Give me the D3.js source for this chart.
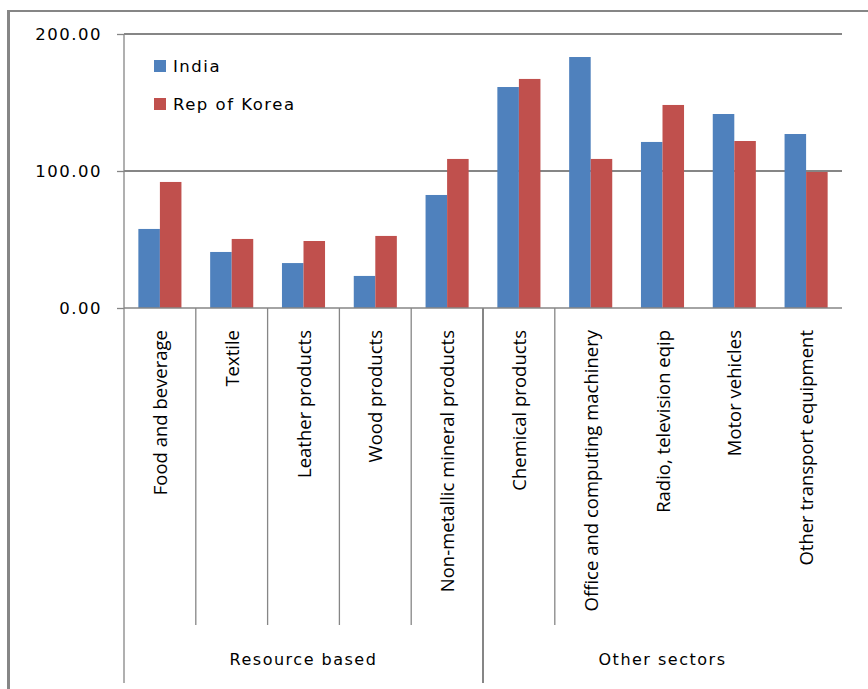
<!DOCTYPE html>
<html>
<head>
<meta charset="utf-8">
<script src="https://cdn.jsdelivr.net/npm/d3@7"></script>
<style>
  html, body { margin: 0; padding: 0; background: #fff; }
  svg { display: block; }
</style>
</head>
<body>
<svg id="chart" width="868" height="689"></svg>
<script>
const categories = ["Food and beverage", "Textile", "Leather products", "Wood products",
  "Non-metallic mineral products", "Chemical products", "Office and computing machinery",
  "Radio, television eqip", "Motor vehicles", "Other transport equipment"];
const seriesNames = ["India", "Rep of Korea"];
const india = [57.7, 40.9, 32.8, 23.4, 82.5, 161.3, 183.2, 121.2, 141.6, 127.0];
const korea = [92.0, 50.4, 48.9, 52.6, 108.8, 167.2, 108.8, 148.2, 121.9, 99.3];
const groups = [
  { name: "Resource based", first: 0, last: 4 },
  { name: "Other sectors", first: 5, last: 9 }
];
// dividers that appear between categories in the reference (index of category to the right)
const dividerAfter = [1, 2, 3, 4, 6];
const yTicks = [0, 100, 200];
const colors = ["#4F81BD", "#C0504D"];

(function () {
const svg = d3.select("#chart");
const pL = 124, pR = 842, pT = 34, pB = 308;
const gray = "#868686";
const tickFont = "'DejaVu Sans', Verdana, sans-serif";

// outer frame (left and top visible)
svg.append("line").attr("x1", 8.5).attr("x2", 8.5).attr("y1", 10).attr("y2", 689)
  .attr("stroke", gray).attr("stroke-width", 3);
svg.append("line").attr("x1", 7).attr("x2", 868).attr("y1", 11).attr("y2", 11)
  .attr("stroke", gray).attr("stroke-width", 2);

const x0 = d3.scaleBand().domain(categories).range([pL, pR]).padding(0);
const bw = x0.bandwidth();
const x1 = d3.scaleBand().domain(seriesNames).range([bw * 0.2, bw * 0.8]).padding(0);
const y = d3.scaleLinear().domain([0, 200]).range([pB, pT]);

// gridlines
svg.append("g").selectAll("line").data(yTicks.filter(d => d > 0)).join("line")
  .attr("x1", pL).attr("x2", pR)
  .attr("y1", d => y(d)).attr("y2", d => y(d))
  .attr("stroke", gray).attr("stroke-width", 2);

// y axis
const yAxis = d3.axisLeft(y).tickValues(yTicks).tickFormat(d3.format(".2f")).tickSize(7).tickPadding(15);
const gy = svg.append("g").attr("transform", `translate(${pL},0)`).call(yAxis);
gy.select(".domain").remove();
gy.selectAll(".tick line").attr("stroke", gray).attr("stroke-width", 1.3);
gy.selectAll(".tick text").attr("font-family", tickFont).attr("font-size", 16.5)
  .attr("letter-spacing", 1.5).attr("fill", "#000");

// bars
const data = categories.map((c, i) => ({ c, vals: [india[i], korea[i]] }));
const cg = svg.append("g").selectAll("g").data(data).join("g")
  .attr("transform", d => `translate(${x0(d.c)},0)`);
cg.selectAll("rect").data(d => d.vals.map((v, k) => ({ k, v }))).join("rect")
  .attr("x", d => x1(seriesNames[d.k]))
  .attr("width", x1.bandwidth())
  .attr("y", d => y(d.v))
  .attr("height", d => y(0) - y(d.v))
  .attr("fill", d => colors[d.k]);

// x axis baseline
svg.append("line").attr("x1", pL).attr("x2", pR).attr("y1", pB).attr("y2", pB)
  .attr("stroke", gray).attr("stroke-width", 1.3);
// left axis line
svg.append("line").attr("x1", pL).attr("x2", pL).attr("y1", pT).attr("y2", 683)
  .attr("stroke", gray).attr("stroke-width", 1.3);

// category dividers
svg.append("g").selectAll("line").data(dividerAfter).join("line")
  .attr("x1", i => x0(categories[i])).attr("x2", i => x0(categories[i]))
  .attr("y1", pB).attr("y2", 625)
  .attr("stroke", gray).attr("stroke-width", 1.3);
// group divider
svg.append("line")
  .attr("x1", x0(categories[groups[1].first])).attr("x2", x0(categories[groups[1].first]))
  .attr("y1", pB).attr("y2", 683)
  .attr("stroke", gray).attr("stroke-width", 2);

// category labels
svg.append("g").selectAll("text").data(categories).join("text")
  .attr("transform", d => `translate(${x0(d) + bw / 2 + 7},330) rotate(-90)`)
  .attr("text-anchor", "end")
  .attr("font-family", "'Open Sans', sans-serif")
  .attr("font-size", 18.5)
  .attr("fill", "#000")
  .text(d => d);

// group labels
svg.append("g").selectAll("text").data(groups).join("text")
  .attr("x", g => (x0(categories[g.first]) + x0(categories[g.last]) + bw) / 2)
  .attr("y", 665)
  .attr("text-anchor", "middle")
  .attr("font-family", tickFont).attr("font-size", 16).attr("letter-spacing", 1.5)
  .attr("fill", "#000")
  .text(g => g.name);

// legend
const lg = svg.append("g").selectAll("g").data(seriesNames).join("g")
  .attr("transform", (d, i) => `translate(154,${60 + i * 38})`);
lg.append("rect").attr("width", 12).attr("height", 12).attr("fill", (d, i) => colors[i]);
lg.append("text").attr("x", 19).attr("y", 12)
  .attr("font-family", tickFont).attr("font-size", 16.5).attr("letter-spacing", 1.5)
  .attr("fill", "#000").text(d => d);
})();
</script>
</body>
</html>
